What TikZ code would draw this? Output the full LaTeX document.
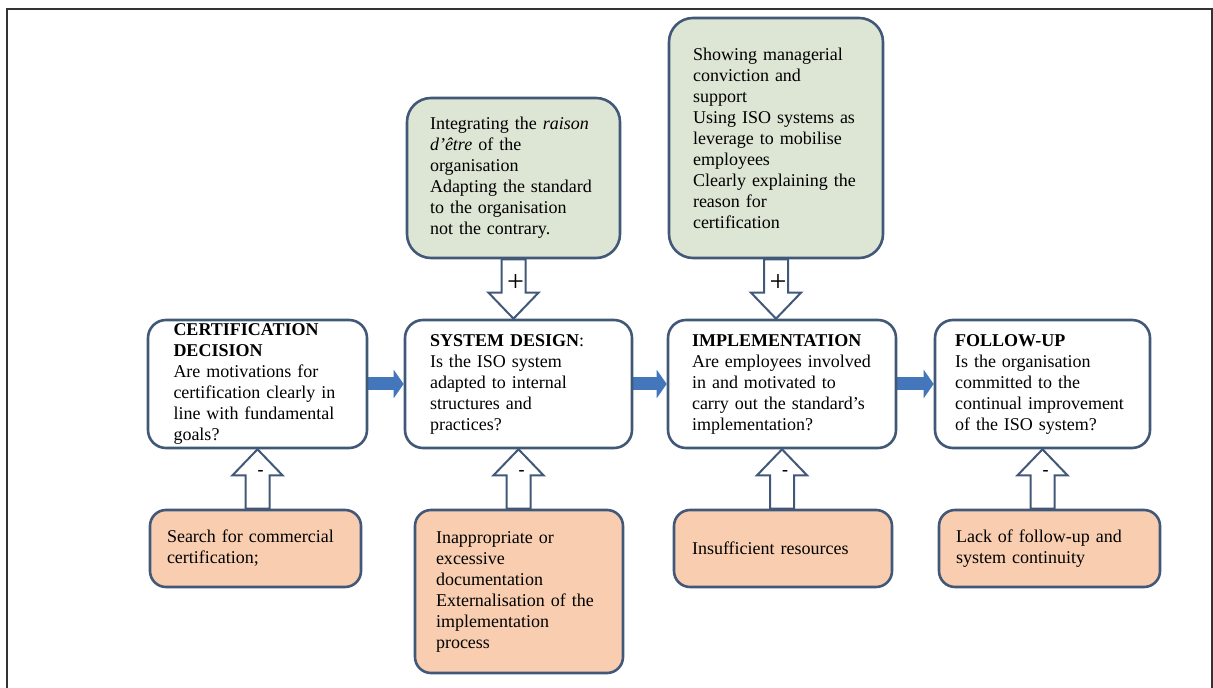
\documentclass[tikz,border=0pt]{standalone}
\usepackage{fontspec}
\setmainfont{Liberation Serif}
\usetikzlibrary{calc,arrows.meta,backgrounds}

\definecolor{boxline}{RGB}{66,88,120}
\definecolor{goodfill}{RGB}{221,229,212}
\definecolor{badfill}{RGB}{249,206,176}
\definecolor{flowblue}{RGB}{68,118,188}

\tikzset{
  stage/.style={draw=boxline, line width=1.3pt, rounded corners=9pt, fill=white,
    minimum height=64pt, align=left, inner sep=1pt, font=\fontsize{9}{10.5}\selectfont},
  driver/.style={stage, fill=goodfill, rounded corners=12pt},
  barrier/.style={stage, fill=badfill, rounded corners=8pt, minimum height=38.5pt},
  hollow/.style={draw=boxline, line width=1pt, fill=white, line join=miter},
  flow/.style={flowblue, line width=6.5pt, -{Triangle[length=5pt,width=14pt]}},
  sign/.style={inner sep=0pt}
}

\begin{document}
\begin{tikzpicture}[x=0.5pt, y=-0.5pt]
    \useasboundingbox (0,0) rectangle (1213,688);

    % outer frame
    \draw[black!80, line width=0.6pt] (7,688) -- (7,9) -- (1212,9) -- (1212,688);

    % 1. The four stages
    \node[stage, minimum width=109.5pt, text width=84pt] (d1) at (257.5,384)
        {\textbf{CERTIFICATION}\\\textbf{DECISION}\\Are motivations for\\certification clearly in\\line with fundamental\\goals?};
    \node[stage, minimum width=113.5pt, text width=88.5pt] (d2) at (518.5,384)
        {\textbf{SYSTEM DESIGN}:\\Is the ISO system\\adapted to internal\\structures and\\practices?};
    \node[stage, minimum width=114pt, text width=90pt] (d3) at (782,384)
        {\textbf{IMPLEMENTATION}\\Are employees involved\\in and motivated to\\carry out the standard’s\\implementation?};
    \node[stage, minimum width=107.5pt, text width=87.5pt] (d4) at (1042.5,384)
        {\textbf{FOLLOW-UP}\\Is the organisation\\committed to the\\continual improvement\\of the ISO system?};

    % 2. Success factors (top)
    \node[driver, minimum width=106.5pt, minimum height=80pt, text width=83.5pt] (g2) at (513.5,178)
        {Integrating the \textit{raison}\\\textit{d'être} of the\\organisation\\Adapting the standard\\to the organisation\\not the contrary.};
    \node[driver, minimum width=107pt, minimum height=120pt, text width=83pt] (g3) at (776,138)
        {Showing managerial\\conviction and\\support\\Using ISO systems as\\leverage to mobilise\\employees\\Clearly explaining the\\reason for\\certification};

    % 3. Obstacles (bottom)
    \node[barrier, minimum width=105.5pt, text width=88.5pt] (p1) at (255.5,548.5)
        {Search for commercial\\certification;};
    \node[barrier, minimum width=104pt, minimum height=81.5pt, text width=83pt] (p2) at (519,591.5)
        {Inappropriate or\\excessive\\documentation\\Externalisation of the\\implementation\\process};
    \node[barrier, minimum width=109pt, text width=91pt] (p3) at (783,548.5)
        {Insufficient resources};
    \node[barrier, minimum width=110.5pt, text width=93.5pt] (p4) at (1049.5,548.5)
        {Lack of follow-up and\\system continuity};

    % 4. Arrows, behind the boxes
    \begin{scope}[on background layer]
        \foreach \a/\b in {d1/d2,d2/d3,d3/d4}
            \draw[flow] (\a.east) -- (\b.west);

        \foreach \g/\d in {g2/d2,g3/d3}{
            \coordinate (tail) at (\g.south);
            \coordinate (tip) at (\g.south |- \d.north);
            \draw[hollow] ($(tail)+(-12,0)$) -- ($(tip)+(-12,-26)$) -- ($(tip)+(-25,-26)$) -- (tip)
                -- ($(tip)+(25,-26)$) -- ($(tip)+(12,-26)$) -- ($(tail)+(12,0)$) -- cycle;
            \node[sign, font=\fontsize{15}{15}\selectfont] (plus\g) at ($(tip)+(2,-36)$) {+};
        }

        \foreach \p/\d in {p1/d1,p2/d2,p3/d3,p4/d4}{
            \coordinate (tail) at (\d.south |- \p.north);
            \coordinate (tip) at (\d.south);
            \draw[hollow] ($(tail)+(-12,0)$) -- ($(tip)+(-12,26)$) -- ($(tip)+(-25,26)$) -- (tip)
                -- ($(tip)+(25,26)$) -- ($(tip)+(12,26)$) -- ($(tail)+(12,0)$) -- cycle;
            \node[sign, font=\fontsize{9}{9}\selectfont] (minus\p) at ($(tip)+(3,24)$) {\textbf{-}};
        }
    \end{scope}
\end{tikzpicture}
\end{document}
